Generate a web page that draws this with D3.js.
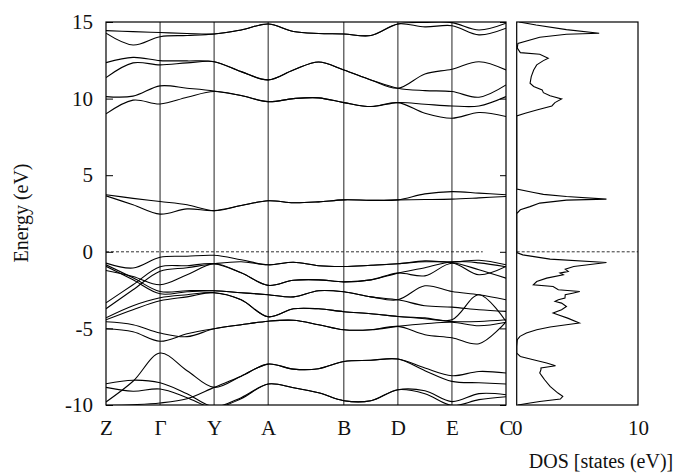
<!DOCTYPE html>
<html>
<head>
<meta charset="utf-8">
<script src="https://cdn.jsdelivr.net/npm/d3@7"></script>
<style>
  body { margin: 0; background: #fff; }
  svg { display: block; }
</style>
</head>
<body>
<svg id="chart" width="681" height="474"></svg>
<script>
// High-symmetry points along the k-path (path distance units)
const kLabels = ["Z", "Γ", "Y", "A", "B", "D", "E", "C"];
const kTicks = [0, 1, 2, 3, 4.4, 5.4, 6.4, 7.4];
// k positions at which each band energy is sampled
const kGrid = [0, 0.5, 1, 1.5, 2, 2.5, 3, 3.467, 3.933, 4.4, 4.9, 5.4, 5.9, 6.4, 6.9, 7.4];

const energyTicks = [15, 10, 5, 0, -5, -10];
const dosTicks = [0, 10];

// Conduction bands (eV)
const bandsConduction = [
  [9.00, 9.90, 9.65, 10.09, 10.46, 10.20, 9.80, 10.00, 10.05, 9.74, 9.48, 9.74, 9.05, 8.72, 9.09, 8.83],
  [10.13, 10.16, 10.83, 10.68, 10.50, 10.20, 9.80, 10.00, 10.05, 9.74, 9.48, 9.74, 9.63, 9.52, 9.52, 10.13],
  [11.37, 12.33, 12.20, 12.33, 12.41, 11.76, 11.22, 11.87, 12.39, 11.87, 11.22, 10.68, 10.52, 10.46, 10.09, 10.89],
  [12.35, 12.69, 12.48, 12.46, 12.41, 11.76, 11.22, 11.87, 12.39, 11.87, 11.22, 10.68, 11.61, 11.92, 12.41, 11.87],
  [14.27, 13.50, 14.04, 14.12, 14.22, 14.48, 14.87, 14.38, 14.25, 14.22, 14.12, 14.87, 14.68, 14.76, 14.16, 14.59],
  [14.44, 14.37, 14.31, 14.25, 14.22, 14.48, 14.87, 14.38, 14.25, 14.22, 14.12, 14.87, 14.97, 14.96, 14.48, 14.92]
];

// Bands in the gap region (eV)
const bandsGap = [
  [3.65, 3.07, 2.46, 2.80, 2.69, 3.02, 3.33, 3.20, 3.26, 3.39, 3.36, 3.39, 3.41, 3.44, 3.52, 3.61],
  [3.72, 3.49, 3.28, 3.07, 2.69, 3.02, 3.33, 3.20, 3.26, 3.39, 3.36, 3.39, 3.78, 3.93, 3.83, 3.72]
];

// Upper valence bands (eV)
const bandsValence = [
  [-0.74, -1.06, -0.36, -0.29, -0.23, -0.52, -0.85, -0.68, -0.91, -0.96, -0.88, -0.78, -0.59, -0.67, -0.55, -0.85],
  [-3.72, -2.48, -1.27, -1.04, -0.78, -0.65, -0.85, -0.68, -0.91, -0.96, -0.88, -0.78, -0.65, -0.70, -1.17, -1.72],
  [-1.22, -1.61, -2.15, -1.50, -0.78, -1.37, -2.19, -1.86, -1.83, -1.96, -1.83, -1.39, -1.57, -0.75, -1.50, -0.96],
  [-3.33, -2.15, -0.98, -0.91, -0.78, -1.37, -2.19, -1.86, -1.83, -1.96, -1.83, -1.39, -1.04, -0.65, -0.72, -0.98],
  [-0.85, -1.70, -2.59, -2.54, -2.54, -2.67, -2.80, -2.94, -2.54, -2.61, -2.94, -3.13, -2.22, -2.59, -2.80, -3.13],
  [-0.95, -1.83, -2.74, -2.61, -2.54, -2.67, -2.80, -2.94, -2.54, -2.61, -2.94, -3.13, -3.52, -3.61, -3.78, -3.89],
  [-4.31, -3.52, -3.00, -2.80, -2.67, -3.13, -4.24, -3.72, -3.72, -3.91, -4.04, -4.22, -4.31, -4.44, -2.80, -4.55],
  [-4.44, -3.78, -3.20, -2.94, -2.67, -3.13, -4.24, -3.72, -3.72, -3.91, -4.04, -4.22, -4.37, -4.55, -4.55, -4.44],
  [-4.57, -4.76, -5.30, -5.54, -5.02, -4.76, -4.53, -4.47, -4.76, -5.09, -5.09, -4.87, -5.41, -5.61, -6.00, -4.57],
  [-5.02, -5.22, -5.84, -5.35, -5.02, -4.76, -4.53, -4.47, -4.76, -5.09, -5.09, -4.87, -4.70, -4.60, -4.83, -4.60]
];

// Lower valence bands (eV)
const bandsLow = [
  [-9.80, -8.45, -6.61, -7.76, -8.85, -8.12, -7.33, -7.66, -7.63, -7.16, -7.08, -7.00, -7.59, -8.09, -7.81, -7.91],
  [-10.03, -9.98, -9.87, -9.59, -8.85, -8.12, -7.33, -7.66, -7.63, -7.16, -7.08, -7.00, -7.76, -8.46, -8.55, -8.63],
  [-8.61, -8.38, -8.55, -9.26, -10.11, -9.52, -8.63, -8.87, -9.20, -9.72, -9.72, -9.00, -9.07, -9.78, -9.26, -9.33],
  [-8.85, -9.10, -8.96, -9.52, -10.18, -9.59, -8.63, -8.87, -9.20, -9.72, -9.72, -9.00, -9.26, -10.03, -9.65, -9.46]
];

// Density of states: [energy (eV), states/eV]
const dosCurve = [
  [15.0, 0.2], [14.8, 1.6], [14.5, 4.1], [14.27, 6.8], [14.2, 4.1], [14.0, 1.9], [13.6, 0.1],
  [13.3, 0.05], [13.0, 0.3], [12.9, 1.9], [12.64, 2.6], [12.48, 2.2], [12.2, 1.65], [11.87, 1.4],
  [11.44, 1.2], [11.0, 1.1], [10.79, 1.4], [10.57, 2.1], [10.39, 2.2], [10.18, 2.75], [9.98, 3.7],
  [9.74, 3.15], [9.52, 2.9], [9.26, 1.65], [9.05, 0.7], [8.87, 0.0],
  [4.1, 0.0], [3.87, 1.4], [3.75, 2.2], [3.61, 4.1], [3.44, 7.4], [3.37, 4.1], [3.18, 1.9],
  [2.95, 1.1], [2.74, 0.3], [2.5, 0.0],
  [-0.05, 0.0], [-0.2, 0.5], [-0.48, 2.75], [-0.70, 7.4], [-0.96, 4.7], [-1.13, 4.0], [-1.28, 4.25],
  [-1.39, 3.57], [-1.50, 3.84], [-1.72, 2.47], [-1.94, 1.65], [-2.15, 1.37], [-2.26, 3.0], [-2.48, 3.43],
  [-2.59, 5.2], [-2.70, 4.6], [-2.80, 4.0], [-3.02, 3.98], [-3.13, 3.43], [-3.24, 3.16], [-3.35, 3.7],
  [-3.57, 4.1], [-3.78, 3.7], [-4.00, 3.0], [-4.11, 3.4], [-4.33, 4.2], [-4.65, 5.16], [-4.76, 4.1],
  [-4.91, 2.75], [-5.09, 1.65], [-5.30, 0.8], [-5.52, 0.27], [-5.74, 0.05], [-6.18, 0.0], [-6.61, 0.0],
  [-6.83, 0.3], [-7.05, 1.37], [-7.26, 2.47], [-7.44, 3.2], [-7.59, 2.0], [-7.70, 2.0], [-7.91, 1.9],
  [-8.13, 2.1], [-8.35, 2.3], [-8.79, 2.75], [-9.22, 3.4], [-9.44, 3.8], [-9.61, 3.6], [-9.77, 1.9],
  [-9.87, 1.1], [-10.0, 0.1]
];

const fermiEnergy = 0;
const fermiLineEnd = 6.97;   // k at which the dashed Fermi line stops in the band panel

const FONT = "'Liberation Serif', 'Times New Roman', Times, serif";
const INK = "#111";

// ---- layout ----
const svg = d3.select("#chart");
const band = { left: 106, right: 506, top: 22, bottom: 405 };
const dosBox = { left: 516.7, right: 638, top: 22, bottom: 405 };

const x = d3.scaleLinear().domain([0, 7.4]).range([band.left, band.right]);
const y = d3.scaleLinear().domain([-10, 15]).range([band.bottom, band.top]);
const xd = d3.scaleLinear().domain([0, 10]).range([dosBox.left, dosBox.right]);

const defs = svg.append("defs");
defs.append("clipPath").attr("id", "clipBand").append("rect")
  .attr("x", band.left).attr("y", band.top)
  .attr("width", band.right - band.left).attr("height", band.bottom - band.top);
defs.append("clipPath").attr("id", "clipDos").append("rect")
  .attr("x", dosBox.left).attr("y", dosBox.top)
  .attr("width", dosBox.right - dosBox.left).attr("height", dosBox.bottom - dosBox.top);

// vertical lines at high-symmetry points
svg.append("g").selectAll("line")
  .data(kTicks.slice(1, -1))
  .join("line")
  .attr("x1", d => x(d)).attr("x2", d => x(d))
  .attr("y1", band.top).attr("y2", band.bottom)
  .attr("stroke", "#222").attr("stroke-width", 1);

// Fermi level
svg.append("line")
  .attr("x1", x(0)).attr("x2", x(fermiLineEnd))
  .attr("y1", y(fermiEnergy)).attr("y2", y(fermiEnergy))
  .attr("stroke", "#333").attr("stroke-width", 1).attr("stroke-dasharray", "3,2");
svg.append("line")
  .attr("x1", xd(0)).attr("x2", xd(10))
  .attr("y1", y(fermiEnergy)).attr("y2", y(fermiEnergy))
  .attr("stroke", "#333").attr("stroke-width", 1).attr("stroke-dasharray", "3,2");

// band structure
const bandLine = d3.line()
  .x((d, i) => x(kGrid[i]))
  .y(d => y(d))
  .curve(d3.curveCatmullRom.alpha(0.5));

const allBands = [...bandsLow, ...bandsValence, ...bandsGap, ...bandsConduction];
svg.append("g").attr("clip-path", "url(#clipBand)")
  .selectAll("path")
  .data(allBands)
  .join("path")
  .attr("d", bandLine)
  .attr("fill", "none")
  .attr("stroke", "#000")
  .attr("stroke-width", 1.1);

// DOS curve
const dosLine = d3.line()
  .x(d => xd(d[1]))
  .y(d => y(d[0]));
svg.append("g").attr("clip-path", "url(#clipDos)")
  .append("path")
  .datum(dosCurve)
  .attr("d", dosLine)
  .attr("fill", "none")
  .attr("stroke", "#000")
  .attr("stroke-width", 1.1);

// frames
svg.append("rect")
  .attr("x", band.left).attr("y", band.top)
  .attr("width", band.right - band.left).attr("height", band.bottom - band.top)
  .attr("fill", "none").attr("stroke", "#000").attr("stroke-width", 1.2);
svg.append("rect")
  .attr("x", dosBox.left).attr("y", dosBox.top)
  .attr("width", dosBox.right - dosBox.left).attr("height", dosBox.bottom - dosBox.top)
  .attr("fill", "none").attr("stroke", "#000").attr("stroke-width", 1.2);

function styleText(sel, size) {
  sel.style("font-family", FONT).style("font-size", size + "px").style("fill", INK);
}

// energy axis (left, with inward ticks)
const yAxis = d3.axisLeft(y)
  .tickValues(energyTicks)
  .tickFormat(d => String(d))
  .tickSizeInner(-7).tickSizeOuter(0).tickPadding(13);
const gy = svg.append("g").attr("transform", `translate(${band.left},0)`).call(yAxis);
gy.select(".domain").remove();
styleText(gy.selectAll("text"), 21);
gy.selectAll("line").attr("stroke", "#000");

// mirrored inward ticks on the right edge of the band panel
const yAxisR = d3.axisRight(y).tickValues(energyTicks).tickFormat("").tickSizeInner(-6).tickSizeOuter(0);
const gyr = svg.append("g").attr("transform", `translate(${band.right},0)`).call(yAxisR);
gyr.select(".domain").remove();
gyr.selectAll("line").attr("stroke", "#000");

// k-point labels
const xAxis = d3.axisBottom(x)
  .tickValues(kTicks)
  .tickFormat((d, i) => kLabels[i])
  .tickSize(0).tickPadding(15);
const gx = svg.append("g").attr("transform", `translate(0,${band.bottom})`).call(xAxis);
gx.select(".domain").remove();
styleText(gx.selectAll("text"), 21);

// DOS axis labels
const dAxis = d3.axisBottom(xd).tickValues(dosTicks).tickFormat(d => String(d)).tickSize(0).tickPadding(15);
const gd = svg.append("g").attr("transform", `translate(0,${dosBox.bottom})`).call(dAxis);
gd.select(".domain").remove();
styleText(gd.selectAll("text"), 21);

// axis titles
styleText(svg.append("text")
  .attr("transform", "translate(21,213) rotate(-90)")
  .attr("text-anchor", "middle")
  .attr("dy", "0.35em")
  .text("Energy (eV)"), 20);
styleText(svg.append("text")
  .attr("x", 601).attr("y", 468)
  .attr("text-anchor", "middle")
  .text("DOS [states (eV)]"), 20);
</script>
</body>
</html>
